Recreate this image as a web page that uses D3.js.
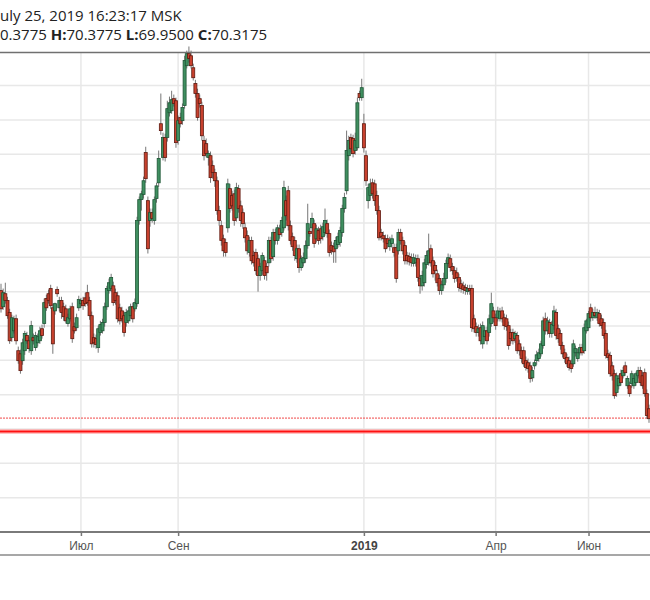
<!DOCTYPE html>
<html>
<head>
<meta charset="utf-8">
<script src="https://cdn.jsdelivr.net/npm/d3@7"></script>
<style>
	body { margin: 0; background: #fff; overflow: hidden; }
</style>
</head>
<body>
<svg id="chart" width="650" height="600"></svg>
<script>
// Daily candles (index 0 = first visible candle)
const opens = [
	74.03, 73.56, 73.94, 73.74, 73.39, 72.66, 72.86, 73.21, 72.28, 72.19,
	71.99, 72.28, 72.72, 72.57, 72.28, 72.66, 72.37, 72.51, 72.57, 72.92,
	73.07, 73.80, 73.94, 74.09, 73.53, 73.44, 74.06, 73.53, 73.74, 73.56,
	73.50, 73.07, 73.21, 73.56, 72.98, 72.95, 73.53, 73.65, 73.74, 73.82,
	73.97, 73.74, 73.30, 72.66, 72.63, 72.37, 72.81, 72.86, 73.10, 73.56,
	74.03, 74.09, 74.17, 73.97, 73.88, 73.53, 73.44, 73.30, 73.10, 73.15,
	73.30, 73.56, 73.50, 73.65, 76.07, 76.68, 76.83, 78.05, 76.65, 76.07,
	76.30, 76.07, 76.71, 77.17, 78.89, 77.91, 78.49, 78.49, 79.21, 79.27,
	79.62, 79.56, 78.40, 79.07, 78.98, 79.42, 80.58, 80.93, 80.87, 80.52,
	80.06, 79.77, 79.62, 79.42, 78.40, 78.31, 77.91, 77.96, 77.67, 77.47,
	77.23, 76.36, 75.92, 75.54, 75.43, 75.86, 77.00, 76.80, 76.85, 76.15,
	77.00, 76.50, 76.30, 75.86, 75.63, 75.14, 75.49, 75.05, 75.14, 74.96,
	74.47, 74.61, 74.90, 74.73, 74.84, 75.49, 75.02, 75.72, 75.49, 75.83,
	75.72, 75.86, 76.65, 76.94, 75.92, 75.60, 75.49, 74.96, 75.25, 74.70,
	74.84, 74.96, 75.34, 75.75, 75.86, 75.98, 75.54, 75.78, 75.83, 75.60,
	75.72, 75.98, 75.69, 75.34, 75.31, 75.25, 75.37, 75.43, 75.72, 76.42,
	76.94, 77.96, 78.49, 78.46, 78.11, 78.19, 79.77, 79.65, 78.89, 77.96,
	76.65, 76.80, 77.17, 77.14, 76.80, 76.36, 75.72, 75.63, 75.54, 75.54,
	75.31, 75.40, 75.28, 75.28, 75.19, 75.72, 75.49, 75.34, 75.05, 75.02,
	74.99, 74.82, 74.84, 74.96, 74.38, 74.17, 74.26, 74.79, 74.84, 75.25,
	74.90, 74.76, 74.52, 74.38, 74.03, 74.20, 74.38, 74.82, 74.96, 74.73,
	74.61, 74.55, 74.41, 74.23, 74.17, 74.12, 74.00, 74.09, 74.09, 73.21,
	72.98, 72.81, 72.95, 72.48, 72.69, 72.86, 72.81, 73.07, 73.44, 73.24,
	73.24, 73.21, 73.44, 73.24, 73.21, 73.01, 72.81, 72.81, 72.63, 72.72,
	72.48, 72.28, 72.28, 71.99, 71.93, 71.84, 71.49, 71.84, 71.99, 72.05,
	72.19, 72.43, 73.21, 72.86, 73.10, 72.78, 73.01, 73.39, 72.92, 72.78,
	72.43, 72.22, 72.08, 71.99, 71.90, 71.90, 72.22, 72.05, 72.22, 72.37,
	72.28, 72.86, 72.95, 73.53, 73.24, 73.39, 73.24, 73.36, 73.21, 73.10,
	72.78, 72.19, 72.14, 71.84, 71.61, 71.06, 71.26, 71.61, 71.55, 71.84,
	71.26, 71.26, 71.32, 71.26, 71.35, 71.55, 71.70, 71.55, 71.64, 71.03,
	70.59
];

const highs = [
	74.23, 74.09, 74.26, 73.85, 73.50, 73.33, 73.30, 73.33, 72.40, 72.31,
	72.63, 72.86, 72.83, 72.69, 73.15, 72.78, 72.83, 72.78, 72.98, 73.04,
	73.80, 73.91, 74.06, 74.20, 73.65, 73.68, 74.15, 73.85, 73.85, 73.68,
	73.62, 73.36, 73.59, 73.68, 73.10, 73.36, 73.88, 73.82, 73.85, 73.97,
	74.20, 73.85, 73.42, 72.78, 72.75, 73.01, 73.15, 73.21, 73.68, 74.17,
	74.38, 74.52, 74.29, 74.09, 74.00, 73.65, 73.56, 73.42, 73.50, 73.56,
	73.65, 73.68, 73.80, 76.18, 76.77, 76.94, 77.35, 78.22, 76.77, 76.42,
	76.42, 76.77, 77.17, 78.11, 79.77, 78.63, 78.60, 79.56, 79.68, 79.85,
	79.74, 79.65, 79.13, 79.21, 79.48, 80.87, 81.02, 81.14, 81.02, 80.64,
	80.17, 79.91, 79.74, 79.53, 78.54, 78.46, 78.11, 78.08, 77.82, 77.58,
	77.35, 76.50, 76.07, 75.66, 75.54, 77.29, 77.14, 76.94, 76.97, 77.17,
	77.11, 76.65, 76.42, 76.01, 75.78, 75.60, 75.60, 75.19, 75.25, 75.08,
	74.84, 75.14, 75.02, 74.84, 75.60, 75.60, 75.83, 75.83, 75.95, 75.95,
	76.18, 77.23, 76.80, 77.08, 76.07, 75.72, 75.60, 75.37, 75.37, 75.05,
	75.14, 75.49, 76.56, 75.86, 76.30, 76.10, 75.95, 75.89, 75.95, 76.01,
	76.42, 76.10, 75.81, 75.46, 75.43, 75.60, 75.72, 75.89, 76.53, 76.88,
	78.69, 78.54, 78.60, 78.57, 78.63, 79.65, 79.85, 80.20, 79.18, 78.11,
	77.14, 77.29, 77.29, 77.26, 76.94, 76.50, 75.83, 75.75, 75.66, 75.66,
	75.60, 75.66, 75.40, 75.40, 75.83, 75.83, 75.60, 75.46, 75.16, 75.14,
	75.11, 75.11, 75.08, 75.08, 74.49, 74.61, 74.96, 75.19, 75.69, 75.37,
	75.02, 74.87, 74.64, 74.49, 74.32, 74.55, 74.93, 75.11, 75.08, 74.84,
	74.73, 74.70, 74.52, 74.35, 74.29, 74.23, 74.20, 74.20, 74.20, 73.33,
	73.10, 73.04, 73.07, 73.13, 72.98, 72.98, 73.33, 73.97, 73.56, 73.36,
	73.56, 73.53, 73.56, 73.36, 73.33, 73.13, 72.92, 72.92, 72.86, 72.83,
	72.60, 72.40, 72.40, 72.11, 72.05, 71.96, 71.81, 72.02, 72.28, 72.34,
	72.57, 73.27, 73.39, 73.27, 73.21, 73.15, 73.59, 73.50, 73.04, 72.89,
	72.54, 72.34, 72.19, 72.11, 72.02, 72.60, 72.43, 72.34, 72.48, 72.48,
	73.07, 73.21, 73.44, 73.65, 73.50, 73.56, 73.50, 73.47, 73.33, 73.21,
	72.89, 72.31, 72.25, 71.96, 71.73, 71.64, 71.58, 71.73, 71.81, 71.96,
	71.55, 71.38, 71.70, 71.58, 71.67, 71.81, 71.81, 71.67, 71.76, 71.15,
	70.71
];

const lows = [
	73.39, 73.47, 73.65, 73.21, 72.48, 72.54, 72.78, 72.46, 71.90, 71.61,
	71.87, 72.16, 72.48, 72.22, 72.16, 72.46, 72.28, 72.40, 72.48, 72.63,
	72.95, 73.44, 73.65, 73.50, 72.19, 73.33, 73.85, 73.42, 73.21, 73.15,
	73.07, 72.98, 73.13, 72.51, 72.78, 72.86, 73.44, 73.53, 73.47, 73.56,
	73.59, 73.18, 72.37, 72.37, 72.34, 72.22, 72.72, 72.78, 72.98, 73.47,
	73.94, 74.00, 73.59, 73.62, 73.10, 73.04, 73.10, 72.69, 72.98, 73.07,
	73.21, 73.10, 73.42, 73.56, 75.95, 76.36, 76.71, 77.17, 75.11, 75.89,
	76.01, 75.95, 76.59, 77.05, 78.57, 77.82, 77.79, 78.37, 79.10, 79.18,
	79.39, 78.19, 78.28, 78.78, 78.86, 79.33, 80.50, 80.67, 80.50, 80.15,
	79.65, 78.98, 79.36, 78.40, 77.82, 77.91, 77.67, 77.17, 77.29, 77.05,
	76.24, 75.92, 75.34, 75.02, 75.02, 75.72, 76.30, 76.36, 75.92, 76.04,
	76.30, 75.89, 75.83, 75.43, 75.08, 75.02, 74.79, 74.73, 74.49, 74.00,
	74.32, 74.49, 74.35, 74.32, 74.73, 74.84, 74.90, 75.37, 75.37, 75.54,
	75.60, 75.78, 76.07, 75.78, 75.37, 75.19, 74.90, 74.84, 74.55, 74.61,
	74.73, 74.84, 75.25, 75.60, 75.75, 75.28, 75.43, 75.37, 75.40, 75.49,
	75.63, 75.57, 75.02, 75.08, 74.84, 74.84, 75.28, 75.31, 75.60, 76.30,
	76.83, 77.82, 78.05, 77.91, 77.99, 78.11, 79.56, 79.56, 78.05, 77.08,
	76.42, 76.65, 76.71, 76.50, 76.24, 75.49, 75.49, 75.43, 75.14, 75.28,
	75.19, 75.28, 75.02, 74.26, 75.08, 75.37, 75.08, 74.79, 74.79, 74.76,
	74.73, 74.73, 74.73, 74.29, 73.94, 74.03, 74.15, 74.67, 74.76, 74.73,
	74.41, 74.32, 74.15, 73.91, 73.91, 74.09, 74.26, 74.73, 74.58, 74.49,
	74.26, 74.29, 74.00, 73.97, 73.94, 73.91, 73.91, 73.91, 72.83, 72.81,
	72.69, 72.69, 72.46, 72.34, 72.57, 72.46, 72.69, 72.98, 73.10, 72.89,
	73.13, 73.13, 73.10, 72.89, 72.86, 72.31, 72.48, 72.46, 72.51, 72.19,
	72.14, 71.93, 71.81, 71.70, 71.64, 71.35, 71.38, 71.73, 71.87, 71.96,
	72.11, 72.34, 72.75, 72.75, 72.66, 72.66, 72.89, 72.60, 72.51, 72.31,
	72.08, 71.93, 71.81, 71.70, 71.64, 71.81, 72.11, 71.96, 72.14, 72.14,
	72.19, 72.78, 72.86, 73.13, 73.15, 73.21, 73.15, 72.98, 72.92, 72.63,
	72.05, 71.99, 71.52, 71.41, 70.88, 70.94, 71.15, 71.26, 71.47, 71.55,
	71.17, 70.94, 71.20, 71.17, 71.26, 71.47, 71.26, 71.17, 70.94, 70.30,
	70.18
];

const closes = [
	73.50, 73.97, 73.74, 73.30, 72.57, 73.24, 73.21, 72.57, 71.99, 71.70,
	72.51, 72.78, 72.57, 72.34, 73.01, 72.57, 72.72, 72.69, 72.86, 72.72,
	73.68, 73.53, 73.74, 73.59, 72.48, 73.65, 73.94, 73.74, 73.39, 73.27,
	73.15, 73.24, 73.50, 72.63, 72.86, 73.24, 73.77, 73.74, 73.59, 73.65,
	73.68, 73.30, 72.48, 72.51, 72.46, 72.92, 73.04, 73.10, 73.56, 74.09,
	74.26, 74.41, 73.68, 73.74, 73.21, 73.15, 73.21, 72.81, 73.39, 73.44,
	73.56, 73.21, 73.68, 76.07, 76.68, 76.85, 77.23, 77.29, 75.25, 76.30,
	76.13, 76.68, 77.08, 77.88, 78.69, 78.49, 77.91, 79.33, 79.50, 79.59,
	79.48, 78.34, 78.98, 78.89, 79.36, 80.73, 80.93, 80.79, 80.58, 80.23,
	79.77, 79.07, 79.48, 78.54, 77.96, 78.02, 78.02, 77.32, 77.47, 77.23,
	76.36, 76.07, 75.49, 75.19, 75.14, 77.14, 76.42, 76.50, 76.07, 77.03,
	76.42, 76.07, 75.98, 75.57, 75.19, 75.49, 74.90, 74.84, 74.61, 74.47,
	74.73, 75.05, 74.47, 74.55, 75.49, 74.96, 75.72, 75.49, 75.86, 75.66,
	76.07, 77.03, 76.21, 75.92, 75.49, 75.31, 75.05, 75.25, 74.70, 74.96,
	74.99, 75.34, 75.98, 75.69, 76.13, 75.40, 75.83, 75.49, 75.54, 75.89,
	76.07, 75.69, 75.14, 75.19, 75.16, 75.49, 75.60, 75.78, 76.42, 76.74,
	78.11, 78.40, 78.16, 78.02, 78.40, 79.50, 79.65, 79.94, 78.19, 77.23,
	77.03, 77.14, 76.85, 76.65, 76.36, 75.57, 75.60, 75.54, 75.25, 75.40,
	75.49, 75.54, 75.14, 74.38, 75.72, 75.49, 75.19, 74.90, 74.90, 74.87,
	74.84, 74.99, 74.96, 74.41, 74.17, 74.47, 74.84, 75.05, 75.19, 74.84,
	74.52, 74.61, 74.26, 74.03, 74.20, 74.38, 74.82, 74.99, 74.70, 74.61,
	74.38, 74.41, 74.12, 74.09, 74.06, 74.03, 74.09, 74.03, 72.95, 72.92,
	72.81, 72.92, 72.57, 73.01, 72.86, 72.57, 73.21, 73.65, 73.24, 73.01,
	73.44, 73.42, 73.21, 73.01, 72.98, 72.43, 72.63, 72.57, 72.78, 72.28,
	72.28, 72.05, 71.90, 71.79, 71.76, 71.47, 71.70, 71.93, 72.16, 72.22,
	72.48, 73.15, 72.86, 73.15, 72.78, 73.04, 73.44, 72.72, 72.63, 72.43,
	72.19, 72.05, 71.90, 71.79, 71.76, 72.48, 72.34, 72.22, 72.37, 72.22,
	72.95, 73.15, 73.36, 73.24, 73.39, 73.30, 73.39, 73.07, 73.01, 72.72,
	72.14, 72.08, 71.61, 71.55, 70.97, 71.55, 71.47, 71.35, 71.70, 71.64,
	71.47, 71.03, 71.61, 71.47, 71.61, 71.70, 71.35, 71.26, 71.03, 70.39,
	70.30
];

// Month ticks (candle index of the first trading day) and their labels
const tickIdx = [37, 82, 168, 229, 272];
const tickLabels = ["Июл", "Сен", "2019", "Апр", "Июн"];

// Header (crosshair readout)
const headerDate = "July 25, 2019 16:23:17 MSK";
const ohlcKeys = ["O", "H", "L", "C"];
const ohlcVals = ["70.3775", "70.3775", "69.9500", "70.3175"];

// Horizontal lines: current price (dotted) and a drawn level (solid)
const lastPrice = 70.3175;
const levelPrice = 69.93;

const svg = d3.select("#chart");

const PLOT_TOP = 53;
const PLOT_BOTTOM = 532;

const n = Math.min(opens.length, highs.length, lows.length, closes.length);
const candles = d3.range(n).map((i) => ({
	i: i,
	o: opens[i],
	h: highs[i],
	l: lows[i],
	c: closes[i],
}));

const x = d3.scaleLinear().domain([0, 300]).range([1, 649]);
const y = d3.scaleLinear().domain([67, 80.95]).range([PLOT_BOTTOM, PLOT_TOP]);

// Grid
const grid = svg.append("g").attr("stroke", "#e8e8e8").attr("stroke-width", 1.5);
grid.selectAll("line.h")
	.data(y.ticks(14).filter((v) => v > 67))
	.enter()
	.append("line")
	.attr("x1", 0)
	.attr("x2", 650)
	.attr("y1", (d) => y(d))
	.attr("y2", (d) => y(d));
grid.selectAll("line.v")
	.data(tickIdx)
	.enter()
	.append("line")
	.attr("x1", (d) => x(d))
	.attr("x2", (d) => x(d))
	.attr("y1", PLOT_TOP)
	.attr("y2", PLOT_BOTTOM);

// Top border of the price pane
svg.append("line")
	.attr("x1", 0).attr("x2", 650)
	.attr("y1", PLOT_TOP - 0.5).attr("y2", PLOT_TOP - 0.5)
	.attr("stroke", "#707070")
	.attr("stroke-width", 1.5);

// Price lines
svg.append("line")
	.attr("x1", 0).attr("x2", 650)
	.attr("y1", y(lastPrice)).attr("y2", y(lastPrice))
	.attr("stroke", "#f04848")
	.attr("stroke-width", 1)
	.attr("stroke-dasharray", "2,1");
svg.append("line")
	.attr("x1", 0).attr("x2", 650)
	.attr("y1", y(levelPrice)).attr("y2", y(levelPrice))
	.attr("stroke", "#ff9a9a")
	.attr("stroke-width", 5)
	.attr("opacity", 0.6);
svg.append("line")
	.attr("x1", 0).attr("x2", 650)
	.attr("y1", y(levelPrice)).attr("y2", y(levelPrice))
	.attr("stroke", "#ff1010")
	.attr("stroke-width", 2);

// Candles
const BODY_W = 3;
const g = svg.append("g");

g.selectAll("line.wick")
	.data(candles)
	.enter()
	.append("line")
	.attr("x1", (d) => x(d.i))
	.attr("x2", (d) => x(d.i))
	.attr("y1", (d) => y(d.h))
	.attr("y2", (d) => y(d.l))
	.attr("stroke", "#777")
	.attr("stroke-width", 1);

g.selectAll("rect.body")
	.data(candles)
	.enter()
	.append("rect")
	.attr("x", (d) => x(d.i) - BODY_W / 2)
	.attr("y", (d) => y(Math.max(d.o, d.c)))
	.attr("width", BODY_W)
	.attr("height", (d) => Math.max(1, Math.abs(y(d.o) - y(d.c))))
	.attr("fill", (d) => (d.c >= d.o ? "#3f8f60" : "#c8412e"))
	.attr("stroke", (d) => (d.c >= d.o ? "#1e5535" : "#5e1a10"))
	.attr("stroke-width", 0.8);

// X axis
const xAxis = svg.append("g")
	.attr("transform", `translate(0, ${PLOT_BOTTOM})`)
	.call(
		d3.axisBottom(x)
			.tickValues(tickIdx)
			.tickFormat((d, i) => tickLabels[i])
			.tickSize(4)
			.tickSizeOuter(0),
	);
xAxis.select(".domain").remove();
xAxis.selectAll(".tick line").attr("stroke", "#777").attr("stroke-width", 1.5);
xAxis.selectAll(".tick text")
	.attr("y", 9)
	.style("font-family", "'Liberation Sans', Arial, sans-serif")
	.style("font-size", "12px")
	.style("fill", (d, i) => (tickLabels[i] === "2019" ? "#444" : "#555"))
	.style("font-weight", (d, i) => (tickLabels[i] === "2019" ? "bold" : "normal"));

svg.append("line")
	.attr("x1", 0).attr("x2", 650)
	.attr("y1", PLOT_BOTTOM).attr("y2", PLOT_BOTTOM)
	.attr("stroke", "#7a7a7a")
	.attr("stroke-width", 2);
svg.append("line")
	.attr("x1", 0).attr("x2", 650)
	.attr("y1", 555).attr("y2", 555)
	.attr("stroke", "#8a8a8a")
	.attr("stroke-width", 1.5);

// Header text, cut at the left edge like the reference crop
const head = svg.append("g")
	.style("font-family", "'Open Sans', sans-serif")
	.style("font-size", "15px")
	.style("fill", "#222");

const line1 = head.append("text").attr("y", 21).text(headerDate);
line1.attr("x", -line1.node().getSubStringLength(0, 1));

const line2 = head.append("text").attr("y", 40);
ohlcKeys.forEach((k, i) => {
	line2.append("tspan").style("font-weight", "bold").text(k + ":");
	line2.append("tspan").text(ohlcVals[i] + (i < ohlcKeys.length - 1 ? " " : ""));
});
line2.attr("x", -line2.node().getSubStringLength(0, 3));
</script>
</body>
</html>
